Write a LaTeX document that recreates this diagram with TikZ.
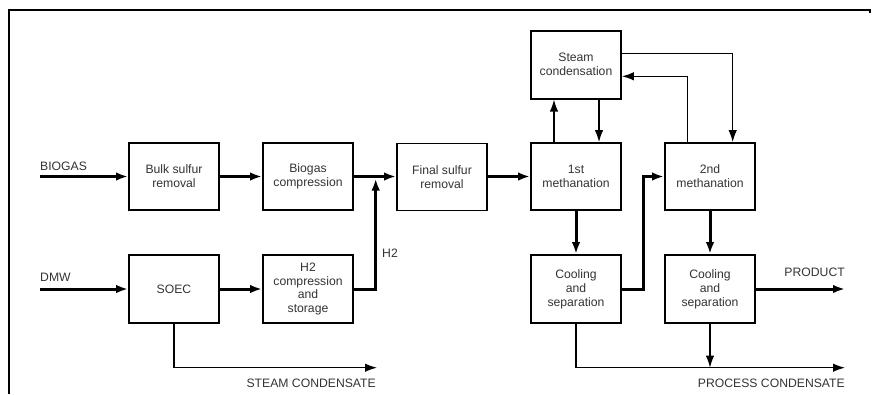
\documentclass[tikz,border=0pt]{standalone}
\usepackage{fontspec}
\setmainfont{Liberation Sans}
\usepackage{xcolor}
\usepackage{tikz}
\usetikzlibrary{arrows.meta}

\begin{document}
\begin{tikzpicture}[x=1pt, y=-1pt, >={Latex[length=12pt,width=8.5pt]},
	block/.style={draw, line width=1.8pt, minimum width=90pt, minimum height=67pt, align=center, inner sep=0pt, text=black!80, font=\fontsize{12.2}{13.9}\selectfont},
	lbl/.style={inner sep=0pt, text=black!80, font=\fontsize{12.2}{13.9}\selectfont},
	flow/.style={line width=3pt, ->},
	side/.style={line width=1.3pt, ->}]
					\useasboundingbox (0, 0) rectangle (872, 394);
					\draw[line width=2pt] (9, 394) -- (9, 10);
					\draw[line width=1.2pt] (8, 10) -- (870, 10) -- (870, 13);
					
					\node[block] (bulk) at (174, 176.5) {Bulk sulfur\\removal};
					\node[block] (comp) at (308, 176.5) {Biogas\\compression};
					\node[block] (final) at (442, 177) {Final sulfur\\removal};
					\node[block, minimum height=68pt] (steam) at (576, 64.7) {Steam\\condensation};
					\node[block] (meth1) at (576, 176.5) {1st\\methanation};
					\node[block] (meth2) at (710, 176.5) {2nd\\methanation};
					\node[block, minimum height=68pt] (soec) at (174, 289) {SOEC};
					\node[block, minimum height=68pt] (htwo) at (308, 289) {H2\\compression\\and\\storage};
					\node[block, minimum height=68pt] (cool1) at (576, 289) {Cooling\\and\\separation};
					\node[block, minimum height=68pt] (cool2) at (710, 289) {Cooling\\and\\separation};
					
					\node[lbl, anchor=west] (biogas) at (40, 166) {BIOGAS};
					\node[lbl, anchor=west] (dmw) at (40, 277.5) {DMW};
					\node[lbl, anchor=west] (htwolbl) at (382, 253) {H2};
					\node[lbl, anchor=east] (steamlbl) at (376, 383) {STEAM CONDENSATE};
					\node[lbl, anchor=east] (product) at (845, 272.7) {PRODUCT};
					\node[lbl, anchor=east] (proclbl) at (845, 383.3) {PROCESS CONDENSATE};
					
					\coordinate (hjoin) at (375.7, 178.5);
					\coordinate (steamend) at (377, 367.7);
					\coordinate (prodend) at (845, 289);
					\coordinate (procend) at (845, 367.7);
					
					\draw[flow] (biogas.west |- bulk.west) -- (bulk.west);
					\draw[flow] (bulk) -- (comp);
					\draw[flow] (comp.east) -- (final.west |- comp.east);
					\draw[flow] (dmw.west |- soec.west) -- (soec.west);
					\draw[flow] (soec) -- (htwo);
					\draw[flow] (htwo.east) -| (hjoin);
					\draw[side] (soec.south) |- (steamend);
					
					\draw[flow] (final.east |- meth1.west) -- (meth1.west);
					\draw[side] ([xshift=-22pt]meth1.north) -- ([xshift=-22pt]steam.south);
					\draw[side] ([xshift=23pt]steam.south) -- ([xshift=23pt]meth1.north);
					\draw[side] ([yshift=11.4pt]steam.east) -| ([xshift=22.7pt]meth2.north);
					\draw[side] ([xshift=-22.7pt]meth2.north) |- ([yshift=-11.6pt]steam.east);
					\draw[flow] (meth1) -- (cool1);
					\draw[flow] (cool1.east) -- ++(21.4, 0) |- (meth2.west);
					\draw[flow] (meth2) -- (cool2);
					\draw[flow] (cool2.east) -- (prodend);
					\draw[side] (cool1.south) |- (procend);
					\draw[side] (cool2.south) -- (cool2.south |- procend);
\end{tikzpicture}
\end{document}
